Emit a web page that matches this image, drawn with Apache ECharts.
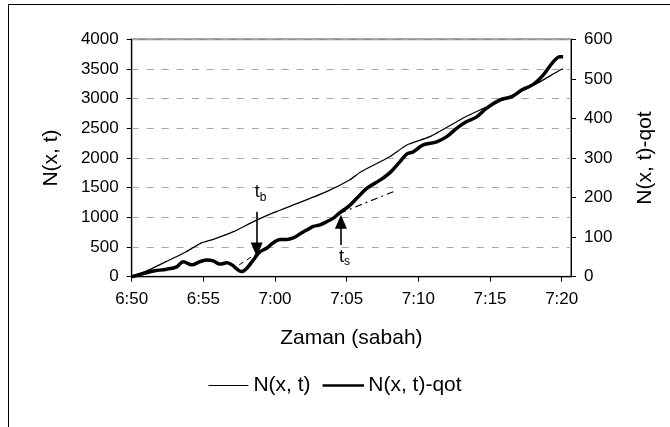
<!DOCTYPE html>
<html><head><meta charset="utf-8">
<script src="https://cdn.jsdelivr.net/npm/echarts@6/dist/echarts.min.js"></script>
<style>html,body{margin:0;padding:0;background:#fff}#c{width:670px;height:427px}</style>
</head><body><div id="c"></div>
<script>
// minutes after 6:50
const xTicks = [0, 5, 10, 15, 20, 25, 30];
const xTickLabels = ['6:50', '6:55', '7:00', '7:05', '7:10', '7:15', '7:20'];

// N(x, t) (left axis)
const nTimes  = [0, 1.3, 2.4, 3.8, 4.8, 5.7, 7.1, 8.5, 9.9, 11.7, 13.6, 15.2, 16.0, 18.0, 19.2, 20.8, 23.1, 24.3, 26.4, 28.3, 29.9, 30.1];
const nValues = [0, 125, 253, 421, 562, 630, 758, 927, 1078, 1247, 1432, 1629, 1769, 2022, 2219, 2359, 2669, 2809, 3033, 3259, 3483, 3500];

// N(x, t)-qot (right axis)
const qTimes  = [0, 1.28, 1.62, 2.44, 3.14, 3.6, 4.19, 4.77, 5.23, 5.69, 6.16, 6.63, 6.98, 7.67, 8.02, 8.48, 8.95, 9.42, 9.88, 10.35, 10.81, 11.27, 11.74, 12.21, 12.67, 13.14, 13.6, 14.07, 14.53, 15.11, 15.7, 16.4, 17.32, 18.02, 18.72, 19.19, 19.65, 20.34, 21.28, 21.98, 22.67, 23.37, 24.07, 24.77, 25.7, 26.51, 27.21, 28.02, 28.72, 29.41, 29.88, 30.1];
const qValues = [0, 12.6, 15, 19, 25, 38, 30, 38, 42, 40, 32, 35, 30, 13, 21, 42, 63, 72, 86, 94, 94, 98, 108, 118, 127, 131, 139, 148, 162, 177, 198, 223, 244, 263, 291, 310, 316, 333, 341, 354, 375, 392, 404, 426, 447, 455, 472, 486, 510, 543, 556, 556];

// trend segments (right axis)
const tbTrendTimes = [7.5, 8.7];
const tbTrendValues = [30, 58];
const tsTrendTimes = [14.5, 18.4];
const tsTrendValues = [160, 217];

// annotations (right axis)
const tbArrow = { time: 8.72, from: 164, to: 69, labelTime: 8.99, labelValue: 211, sub: 'b' };
const tsArrow = { time: 14.6, from: 80, to: 139, labelTime: 14.85, labelValue: 47, sub: 's' };

const FONT = "'Liberation Sans', Arial, sans-serif";
const pairs = (a, b) => a.map((t, i) => [t, b[i]]);

const chart = echarts.init(document.getElementById('c'), null, { renderer: 'canvas' });
const labelRich = {
  t: { fontSize: 18, fontFamily: FONT, color: '#000', lineHeight: 20, verticalAlign: 'top' },
  s: { fontSize: 12, fontFamily: FONT, color: '#000', lineHeight: 12, verticalAlign: 'bottom', padding: [14, 0, 0, 0] }
};
function arrowLine(a) {
  return [{ coord: [a.time, a.from], symbol: 'none' }, { coord: [a.time, a.to], symbol: 'triangle', symbolSize: [12, 14] }];
}
function arrowLabel(a) {
  return { coord: [a.labelTime, a.labelValue], symbol: 'circle', symbolSize: 0,
    label: { show: true, position: 'inside', formatter: '{t|t}{s|' + a.sub + '}', rich: labelRich } };
}

chart.setOption({
  animation: false,
  backgroundColor: '#fff',
  textStyle: { fontFamily: FONT, color: '#000' },
  graphic: [{ type: 'rect', shape: { x: 8.5, y: 4.5, width: 800, height: 600 }, style: { fill: 'none', stroke: '#000', lineWidth: 1 }, silent: true, z: -10 }],
  grid: { left: 131.7, right: 99, top: 39.3, bottom: 150.3, show: true, borderColor: '#8c8c8c', borderWidth: 2, backgroundColor: 'transparent' },
  legend: {
    left: 'center', top: 370,
    itemWidth: 40, itemHeight: 1, itemGap: 12,
    textStyle: { fontSize: 21, fontFamily: FONT, color: '#000' },
    data: [
      { name: 'N(x, t)', icon: 'rect' },
      { name: 'N(x, t)-qot', icon: 'rect', itemStyle: { borderColor: '#000', borderWidth: 1.5 } }
    ]
  },
  xAxis: {
    type: 'value', min: 0, max: 30.65,
    name: 'Zaman (sabah)', nameLocation: 'middle', nameGap: 51,
    nameTextStyle: { fontSize: 21, fontFamily: FONT, color: '#000' },
    axisLine: { show: true, onZero: false, lineStyle: { color: '#000', width: 1 } },
    axisTick: { show: true, length: 5, customValues: xTicks, lineStyle: { color: '#000' } },
    axisLabel: { customValues: xTicks, margin: 14, fontSize: 17, fontFamily: FONT, color: '#000',
      formatter: v => xTickLabels[xTicks.indexOf(v)] },
    splitLine: { show: false }
  },
  yAxis: [{
    type: 'value', min: 0, max: 4000, interval: 500, position: 'left',
    name: 'N(x, t)', nameLocation: 'middle', nameGap: 70, nameRotate: 90,
    nameTextStyle: { fontSize: 21, fontFamily: FONT, color: '#000' },
    axisLine: { show: true, lineStyle: { color: '#000' } },
    axisTick: { show: true, length: 5, lineStyle: { color: '#000' } },
    axisLabel: { margin: 13, fontSize: 17, fontFamily: FONT, color: '#000', formatter: v => String(v) },
    splitLine: { show: true, lineStyle: { color: '#a6a6a6', type: [7, 8], width: 1.2 } }
  }, {
    type: 'value', min: 0, max: 600, interval: 100, position: 'right',
    name: 'N(x, t)-qot', nameLocation: 'middle', nameGap: 64, nameRotate: 90,
    nameTextStyle: { fontSize: 21, fontFamily: FONT, color: '#000' },
    axisLine: { show: true, lineStyle: { color: '#000' } },
    axisTick: { show: true, length: 5, lineStyle: { color: '#000' } },
    axisLabel: { margin: 13, fontSize: 17, fontFamily: FONT, color: '#000', formatter: v => String(v) },
    splitLine: { show: false }
  }],
  series: [{
    name: 'N(x, t)', type: 'line', yAxisIndex: 0, data: pairs(nTimes, nValues),
    symbol: 'none', smooth: 0.2, color: '#000', lineStyle: { color: '#000', width: 1.3 }, z: 3
  }, {
    name: 'N(x, t)-qot', type: 'line', yAxisIndex: 1, data: pairs(qTimes, qValues),
    symbol: 'none', smooth: 0.35, color: '#000', lineStyle: { color: '#000', width: 3.5 }, z: 4
  }, {
    name: 'tbTrend', type: 'line', yAxisIndex: 1, data: pairs(tbTrendTimes, tbTrendValues),
    symbol: 'none', color: '#000', lineStyle: { color: '#000', width: 1, type: [5, 4] }, z: 2
  }, {
    name: 'tsTrend', type: 'line', yAxisIndex: 1, data: pairs(tsTrendTimes, tsTrendValues),
    symbol: 'none', color: '#000', lineStyle: { color: '#000', width: 1.2, type: [7, 4, 2, 4] }, z: 2,
    markLine: { silent: true, animation: false, label: { show: false },
      lineStyle: { color: '#000', width: 1.6, type: 'solid' },
      data: [arrowLine(tbArrow), arrowLine(tsArrow)] },
    markPoint: { silent: true, animation: false, data: [arrowLabel(tbArrow), arrowLabel(tsArrow)] }
  }]
});
</script></body></html>
